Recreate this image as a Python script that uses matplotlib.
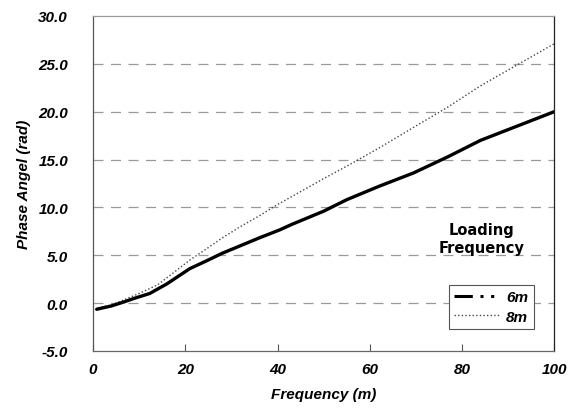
import matplotlib
matplotlib.use("Agg")
import matplotlib.pyplot as plt
from matplotlib.lines import Line2D

# Phase angle vs frequency for two loading frequencies
freq_6m = [0.8, 4, 6.6, 9, 12.3, 16, 21, 25, 28, 32, 36, 40.5, 43, 50, 55, 62, 69.5, 77, 84, 92, 100]
phase_6m = [-0.65, -0.3, 0.1, 0.5, 1.0, 2.0, 3.6, 4.5, 5.2, 6.0, 6.8, 7.65, 8.2, 9.6, 10.8, 12.2, 13.6, 15.3, 17.0, 18.5, 20.0]

freq_8m = [1, 4, 7, 10, 14, 17, 21, 25, 28, 32, 36, 40, 43, 50, 55, 62, 70, 77, 84, 92, 100]
phase_8m = [-0.5, -0.2, 0.4, 1.0, 1.9, 3.0, 4.5, 5.8, 6.8, 8.0, 9.1, 10.3, 11.1, 13.0, 14.3, 16.2, 18.5, 20.5, 22.7, 24.9, 27.1]

x_ticks = [0, 20, 40, 60, 80, 100]
y_ticks = [-5, 0, 5, 10, 15, 20, 25, 30]

series_names = ["6m", "8m"]
legend_title = "Loading\nFrequency"

fig = plt.figure(figsize=(5.72, 4.14), dpi=100)
ax = fig.add_axes([0.1626, 0.150, 0.8064, 0.809])

ax.plot(freq_8m, phase_8m, color="#444444", lw=1.0, linestyle=(0, (1, 1.6)), zorder=3)
ax.plot(freq_6m, phase_6m, color="black", lw=2.4, solid_capstyle="round", zorder=4)

ax.set_xlim(0, 100)
ax.set_ylim(-5, 30)
ax.set_xticks(x_ticks)
ax.set_yticks(y_ticks)

tick_font = dict(family="Liberation Sans", weight="bold", style="italic", size=11)
ax.set_xticklabels([f"{v:d}" for v in x_ticks], fontdict=tick_font)
ax.set_yticklabels([f"{v:.1f}" for v in y_ticks], fontdict=tick_font)
ax.tick_params(axis="x", direction="in", length=5, width=0.8, color="#555555", pad=8)
ax.tick_params(axis="y", direction="in", length=0, pad=18)

for y in [0, 5, 10, 15, 20, 25]:
    ax.axhline(y, color="#999999", lw=0.9, linestyle=(0, (8, 6)), zorder=1)

ax.spines["left"].set_color("#555555")
ax.spines["bottom"].set_color("#666666")
ax.spines["top"].set_color("#999999")
ax.spines["right"].set_color("#222222")
for s in ax.spines.values():
    s.set_linewidth(0.9)

label_font = dict(family="Liberation Sans", weight="bold", style="italic", size=11)
ax.set_xlabel("Frequency (m)", fontdict=label_font, labelpad=8)
ax.set_ylabel("Phase Angel (rad)", fontdict=label_font, labelpad=5)

handles = [
    Line2D([], [], color="black", lw=2.2, linestyle=(0, (6, 2.5, 1, 2.5, 1, 2.5))),
    Line2D([], [], color="#444444", lw=1.0, linestyle=(0, (1, 1.6))),
]
leg = ax.legend(handles, series_names, loc="upper left", bbox_to_anchor=(0.755, 0.22),
                frameon=True, fancybox=False, edgecolor="#555555", framealpha=1,
                handlelength=3.0, handletextpad=0.4, borderpad=0.35, labelspacing=0.35,
                prop=dict(family="Liberation Sans", weight="bold", style="italic", size=11))
leg.get_frame().set_linewidth(0.8)

ax.text(0.842, 0.335, legend_title, transform=ax.transAxes, ha="center", va="center",
        fontsize=10.5, fontweight="bold", family="DejaVu Sans", linespacing=1.2)

fig.savefig("out.png", dpi=100)
